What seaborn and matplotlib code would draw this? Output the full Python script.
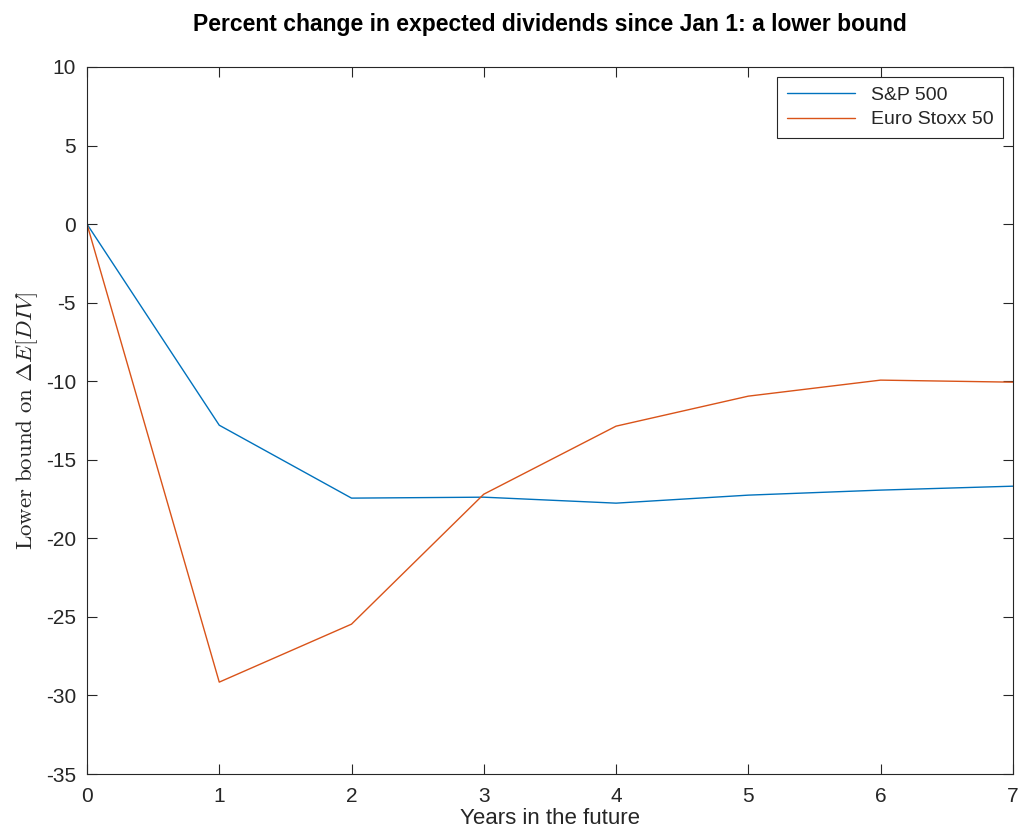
import matplotlib
matplotlib.use('Agg')
import matplotlib.pyplot as plt
import pandas as pd
import seaborn as sns

years = [0, 1, 2, 3, 4, 5, 6, 7]
sp500 = [0, -12.8, -17.44, -17.38, -17.76, -17.25, -16.93, -16.68]
stoxx50 = [0, -29.15, -25.46, -17.19, -12.86, -10.95, -9.93, -10.06]
series_names = ['S&P 500', 'Euro Stoxx 50']

df = pd.concat([
    pd.DataFrame({'year': years, 'value': sp500, 'index': series_names[0]}),
    pd.DataFrame({'year': years, 'value': stoxx50, 'index': series_names[1]}),
])

sns.set_style('white')
plt.rcParams['font.family'] = ['Liberation Sans', 'DejaVu Sans']
plt.rcParams['mathtext.fontset'] = 'cm'
plt.rcParams['axes.unicode_minus'] = False

fig = plt.figure(figsize=(10.21, 8.34), dpi=100)
ax = fig.add_axes([0.0852, 0.0719, 0.9068, 0.8478])

sns.lineplot(
    data=df, x='year', y='value', hue='index',
    palette=['#0072BD', '#D95319'], linewidth=1.0, ax=ax
)

ax.set_xlim(0, 7)
ax.set_ylim(-35, 10)
ax.set_xticks(range(0, 8))
ax.set_yticks(range(-35, 11, 5))
ax.tick_params(direction='in', length=7, width=0.8, labelsize=15,
               colors='#262626', top=True, right=True, bottom=True, left=True)
ax.tick_params(axis='x', pad=9)
ax.tick_params(axis='y', pad=8)
for s in ax.spines.values():
    s.set_color('#262626')
    s.set_linewidth(0.8)

ax.set_title('Percent change in expected dividends since Jan 1: a lower bound',
             fontsize=16.5, fontweight='bold', pad=26, color='black')
ax.set_xlabel('Years in the future', fontsize=16, color='#262626', labelpad=2)
ax.set_ylabel(r'$\mathrm{Lower\ bound\ on}\ \Delta E[DIV]$', fontsize=16.5,
              color='#262626', labelpad=4)

leg = ax.legend(loc='upper right', fontsize=14, frameon=True, fancybox=False,
                edgecolor='#262626', framealpha=1, borderpad=0.5,
                handlelength=3.5, labelspacing=0.35, title=None)
leg.get_frame().set_linewidth(0.8)

fig.savefig('out.png', dpi=100)
